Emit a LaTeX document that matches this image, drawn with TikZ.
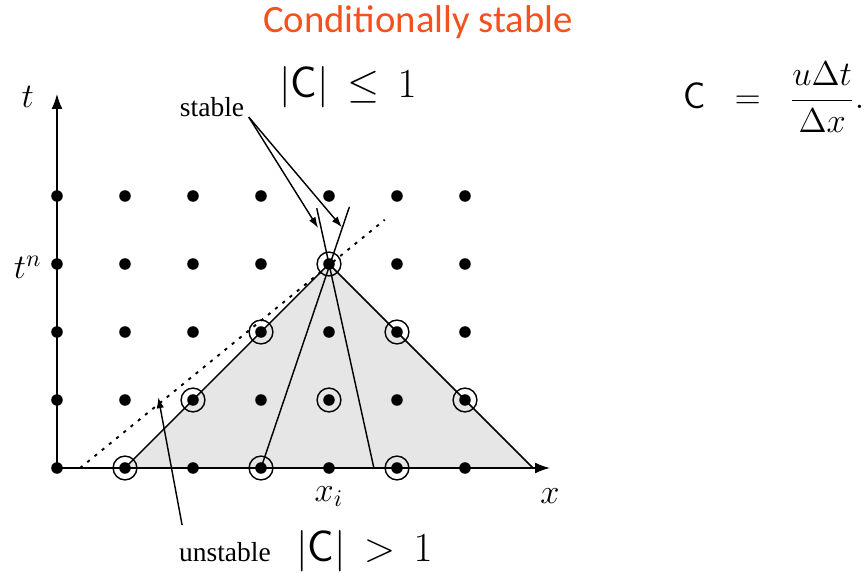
\documentclass[tikz,border=0pt]{standalone}
\usepackage{fontspec}
\usepackage{amsmath}
\newfontfamily\titlefont{Carlito}
\newfontfamily\labelfont{Liberation Serif}
\usetikzlibrary{arrows.meta}
\definecolor{titlered}{HTML}{F4511E}
\definecolor{domaingray}{HTML}{E6E6E6}
\begin{document}
\begin{tikzpicture}[>={Latex[length=1.6mm,width=1.1mm]},
  gridpt/.style={circle, fill=black, inner sep=0pt, minimum size=1.7mm},
  ring/.style={circle, draw, semithick, inner sep=0pt, minimum size=3.5mm},
  axislbl/.style={font=\fontsize{14}{16}\selectfont},
  wordlbl/.style={font=\labelfont\fontsize{11.5}{13}\selectfont},
  bigmath/.style={font=\fontsize{18.5}{22}\selectfont}]
\useasboundingbox (-0.838,-1.544) rectangle (11.897,6.882);

% domain of dependence
\fill[domaingray] (1,0) -- (4,3) -- (7,0) -- cycle;
\draw[semithick] (1,0) -- (4,3) -- (7,0);

% axes
\draw[semithick, -{Latex[length=2.2mm,width=1.6mm]}] (0,0) -- (7.25,0);
\draw[semithick, -{Latex[length=2.2mm,width=1.6mm]}] (0,0) -- (0,5.5);
\node[axislbl] (tlbl) at (-0.43,5.46) {$t$};
\node[axislbl] (tnlbl) at (-0.43,2.95) {$t^n$};
\node[axislbl] (xilbl) at (4,-0.42) {$x_i$};
\node[axislbl] (xlbl) at (7.25,-0.42) {$x$};

% mesh points
\foreach \i in {0,...,6}
  \foreach \j in {0,...,4}
    \node[gridpt] (p-\i-\j) at (\i,\j) {};
\foreach \i/\j in {1/0,3/0,5/0,2/1,4/1,6/1,3/2,5/2,4/3}
  \node[ring] (r-\i-\j) at (\i,\j) {};

% characteristics
\coordinate (ca) at (4.66,0);
\coordinate (catop) at (3.82,3.82);
\coordinate (cbtop) at (4.30,3.84);
\draw[semithick] (ca) -- (catop);
\draw[semithick] (p-3-0.center) -- (cbtop);
\draw[thick, dash pattern=on 1.3pt off 2.6pt] (0.34,0) -- (4.82,3.65);

% labels
\node[font=\titlefont\fontsize{16.2}{19}\selectfont, text=titlered] (title) at (5.31,6.55) {Conditionally stable};
\node[bigmath] (cle) at (4.28,5.6) {$|\mathsf{C}|\,\le\,1$};
\node[wordlbl] (stable) at (2.28,5.3) {stable};
\node[font=\fontsize{15.5}{18}\selectfont, anchor=base west, inner sep=0pt] (cdef) at (9.21,5.28)
  {$\mathsf{C}\hspace{8pt}=\hspace{8pt}\dfrac{u\Delta t}{\Delta x}.$};
\node[wordlbl] (unstable) at (2.47,-1.24) {unstable};
\node[bigmath] (cgt) at (4.52,-1.22) {$|\mathsf{C}|\,>\,1$};

% pointers
\coordinate (sfrom) at (2.82,5.16);
\coordinate (ufrom) at (1.84,-0.84);
\draw[semithick, ->] (sfrom) -- (3.84,3.53);
\draw[semithick, ->] (sfrom) -- (4.19,3.54);
\draw[semithick, ->] (ufrom) -- (1.49,1.04);
\end{tikzpicture}
\end{document}
